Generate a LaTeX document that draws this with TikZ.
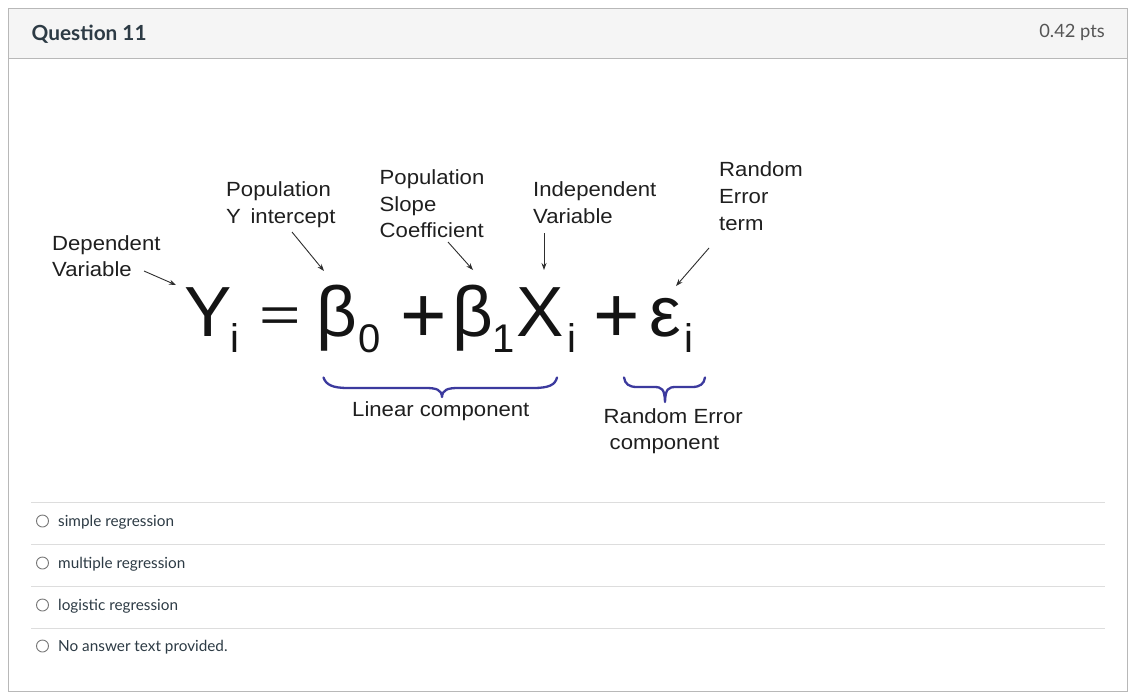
\documentclass[tikz,border=0pt]{standalone}
\usepackage{fontspec}
\setmainfont{Lato}
\newfontfamily\lbl[FakeStretch=1.08]{Liberation Sans}
\newfontfamily\eqf{Liberation Sans}
\usetikzlibrary{arrows.meta}
\definecolor{hdrfill}{HTML}{F5F5F5}
\definecolor{boxgray}{HTML}{B8B8B8}
\definecolor{sepgray}{HTML}{DDDDDD}
\definecolor{textdark}{HTML}{2D3B45}
\definecolor{ptsgray}{HTML}{555555}
\definecolor{braceblue}{HTML}{3C3A9E}
\definecolor{radiogray}{HTML}{777777}
\begin{document}
\begin{tikzpicture}[x=1pt,y=-1pt,
  lab/.style={anchor=base west, inner sep=0, font=\lbl\fontsize{20.5}{24}\selectfont, text=black!88},
  eqg/.style={anchor=base west, inner sep=0, font=\eqf\fontsize{71}{80}\selectfont, text=black!92},
  eqs/.style={anchor=base west, inner sep=0, font=\eqf\fontsize{40}{44}\selectfont, text=black!92},
  ptr/.style={draw=black!82, line width=0.9pt, -{Stealth[length=7pt,width=5pt]}},
  brace/.style={draw=braceblue, line width=2.3pt, line cap=round, line join=round},
  sepline/.style={draw=sepgray, line width=1pt},
  radio/.style={circle, draw=radiogray, line width=0.9pt, minimum size=12pt, inner sep=0},
  opt/.style={anchor=base west, inner sep=0, font=\fontsize{15.3}{18}\selectfont, text=textdark}
]
\useasboundingbox (0,0) rectangle (1131,697);
\fill[white] (0,0) rectangle (1131,697);
% frame and header
\fill[hdrfill] (8.5,8.5) rectangle (1127.5,58);
\draw[boxgray, line width=1pt] (8.5,58) -- (1127.5,58);
\draw[boxgray, line width=1.2pt] (8.5,8.5) rectangle (1127.5,691.5);
\node[anchor=base west, inner sep=0, font=\bfseries\fontsize{20.8}{24}\selectfont, text=textdark] (qtitle) at (31.5,40.5) {Question 11};
\node[anchor=base east, inner sep=0, font=\fontsize{18.3}{21}\selectfont, text=ptsgray] (pts) at (1105,37.5) {0.42 pts};

% labels
\node[lab] (dep1) at (52,250) {Dependent};
\node[lab] (dep2) at (52,276) {Variable};
\node[lab] (yi1) at (226,196.5) {Population};
\node[lab] (yi2) at (226,223.5) {Y\, intercept};
\node[lab] (sl1) at (379.5,184) {Population};
\node[lab] (sl2) at (379.5,211) {Slope};
\node[lab] (sl3) at (379.5,237.5) {Coefficient};
\node[lab] (ind1) at (533,196.5) {Independent};
\node[lab] (ind2) at (533,223.5) {Variable};
\node[lab] (re1) at (719,176.5) {Random};
\node[lab] (re2) at (719,203.5) {Error};
\node[lab] (re3) at (719,230.5) {term};
\node[lab] (lin) at (352,416) {Linear component};
\node[lab] (rc1) at (603.5,423) {Random Error};
\node[lab] (rc2) at (609.5,449.5) {component};

% equation
\node[eqg] (Y) at (184,336) {Y};
\node[eqs] (Yi) at (230.5,352) {i};
\node[eqg] (eq) at (259,331) {\scalebox{1}[0.68]{=}};
\node[eqg] (b0) at (316,336) {β};
\node[eqs] (b0s) at (358,352) {0};
\node[eqg] (p1) at (400,342) {\scalebox{1.12}{+}};
\node[eqg] (b1) at (452,336) {β};
\node[eqs] (b1s) at (492,352) {1};
\node[eqg] (X) at (516,336) {X};
\node[eqs] (Xi) at (567.5,352) {i};
\node[eqg] (p2) at (593,342) {\scalebox{1.12}{+}};
\node[eqg] (ep) at (649,336) {ε};
\node[eqs] (epi) at (684,352) {i};

% pointer arrows
\coordinate (a1s) at (144,271); \coordinate (a1e) at (176,285);
\coordinate (a2s) at (292,232); \coordinate (a2e) at (324,271);
\coordinate (a3s) at (448,242); \coordinate (a3e) at (473,270);
\coordinate (a4s) at (544,233); \coordinate (a4e) at (544,270);
\coordinate (a5s) at (709,248); \coordinate (a5e) at (676,286);
\draw[ptr] (a1s) -- (a1e);
\draw[ptr] (a2s) -- (a2e);
\draw[ptr] (a3s) -- (a3e);
\draw[ptr] (a4s) -- (a4e);
\draw[ptr] (a5s) -- (a5e);

% braces
\draw[brace] (323.5,377.5) .. controls (326,385) and (333,388) .. (348,388)
  -- (426,388) .. controls (437,388) and (441.5,390) .. (442,397)
  .. controls (442.5,390) and (447,388) .. (458,388)
  -- (533,388) .. controls (549,388) and (555,385) .. (557,377.5);
\draw[brace] (624,377.5) .. controls (625,384) and (629,387) .. (637,387)
  -- (654,387) .. controls (662,387) and (664.5,389) .. (665,402)
  .. controls (665.5,389) and (668,387) .. (676,387)
  -- (692,387) .. controls (700,387) and (704,384) .. (705,377.5);

% answer options
\draw[sepline] (31,502.5) -- (1105,502.5);
\draw[sepline] (31,544.5) -- (1105,544.5);
\draw[sepline] (31,586.5) -- (1105,586.5);
\draw[sepline] (31,628.5) -- (1105,628.5);
\node[radio] (r1) at (42.5,521) {};
\node[radio] (r2) at (42.5,563) {};
\node[radio] (r3) at (42.5,605) {};
\node[radio] (r4) at (42.5,646) {};
\node[opt] (o1) at (58,526) {simple regression};
\node[opt] (o2) at (58,568) {multiple regression};
\node[opt] (o3) at (58,610) {logistic regression};
\node[opt] (o4) at (58,651) {No answer text provided.};
\end{tikzpicture}
\end{document}
